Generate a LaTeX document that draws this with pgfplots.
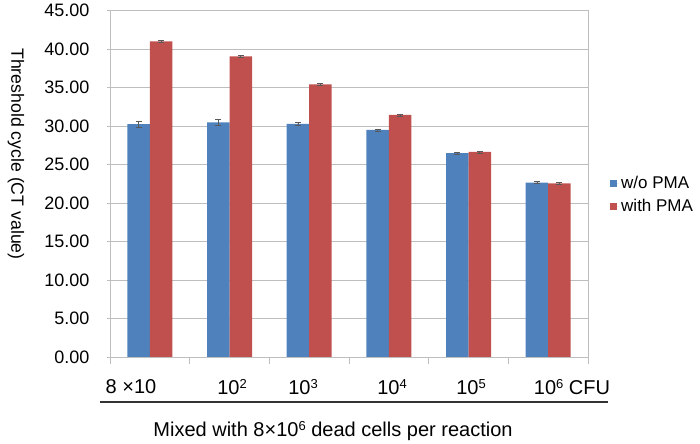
\documentclass[border=0pt]{standalone}
\usepackage{pgfplots}
\pgfplotsset{compat=1.18}
\usepackage{fontspec}
\setmainfont{Liberation Sans}
\definecolor{barblue}{HTML}{4F81BD}
\definecolor{barred}{HTML}{C0504D}
\definecolor{gridgray}{HTML}{BEBEBE}
\newcommand{\sups}[1]{\raisebox{0.62ex}{\fontsize{13bp}{13bp}\selectfont #1}}
\begin{document}
\begin{tikzpicture}[x=1bp,y=1bp]
  \path[use as bounding box] (0,0) rectangle (700,444);
  \begin{axis}[
    at={(110bp,87bp)}, anchor=south west,
    scale only axis,
    width=478bp, height=346.3bp,
    ybar=0pt, bar width=22.5bp,
    xmin=-0.5, xmax=5.5,
    ymin=0, ymax=45,
    xtick={-0.5,0.5,1.5,2.5,3.5,4.5,5.5},
    xticklabel=\empty,
    ytick={0,5,...,45},
    minor ytick={0,5,...,45},
    yticklabel={\pgfmathprintnumber[fixed,fixed zerofill,precision=2]{\tick}},
    /pgf/number format/assume math mode=true,
    yticklabel style={font=\fontsize{18bp}{21bp}\selectfont, xshift=-10bp},
    ymajorgrids,
    grid style={gridgray, line width=0.8bp},
    axis line style={gridgray, line width=0.8bp},
    tick style={gridgray, line width=0.8bp},
    every major y tick/.append style={draw=none},
    tick align=outside,
    xtick pos=bottom, ytick pos=left,
    major tick length=7bp, minor tick length=3bp,
    legend style={at={(1.045,0.468)}, anchor=west, draw=none, fill=none,
      font=\fontsize{17bp}{20bp}\selectfont, row sep=5bp, inner sep=0pt},
    legend cell align=left,
    legend image code/.code={\fill[#1] (0bp,-3.7bp) rectangle (7.5bp,3.7bp); \path (0bp,0bp) -- (9.5bp,0bp);},
    error bars/y dir=both, error bars/y explicit,
    error bars/error bar style={black!65, line width=0.6bp},
    error bars/error mark options={rotate=90, mark size=3bp, black!65, line width=0.6bp},
  ]
    \addplot[fill=barblue, draw=none] coordinates {
      (0,30.27) +- (0,0.40)
      (1,30.50) +- (0,0.40)
      (2,30.30) +- (0,0.25)
      (3,29.50) +- (0,0.15)
      (4,26.50) +- (0,0.10)
      (5,22.65) +- (0,0.12)
    };
    \addplot[fill=barred, draw=none] coordinates {
      (0,41.02) +- (0,0.10)
      (1,39.07) +- (0,0.10)
      (2,35.43) +- (0,0.15)
      (3,31.45) +- (0,0.15)
      (4,26.64) +- (0,0.15)
      (5,22.57) +- (0,0.10)
    };
    \legend{w/o PMA, with PMA}
  \end{axis}
  % category labels, placed as in the reference
  \begin{scope}[every node/.style={font=\fontsize{20bp}{24bp}\selectfont, inner sep=0pt}]
    \node at (131,57) {8 ×10};
    \node at (232,57) {10\sups{2}};
    \node at (303,57) {10\sups{3}};
    \node at (392,57) {10\sups{4}};
    \node at (471,57) {10\sups{5}};
    \node at (572,57) {10\sups{6} CFU};
    \node at (333,13) {Mixed with 8×10\sups{6} dead cells per reaction};
  \end{scope}
  \draw[line width=1.5bp, black!80] (100,42) -- (608,42);
  \node[rotate=-90, inner sep=0pt, font=\fontsize{17.7bp}{21bp}\selectfont] at (16,290) {Threshold cycle (CT value)};
\end{tikzpicture}
\end{document}
